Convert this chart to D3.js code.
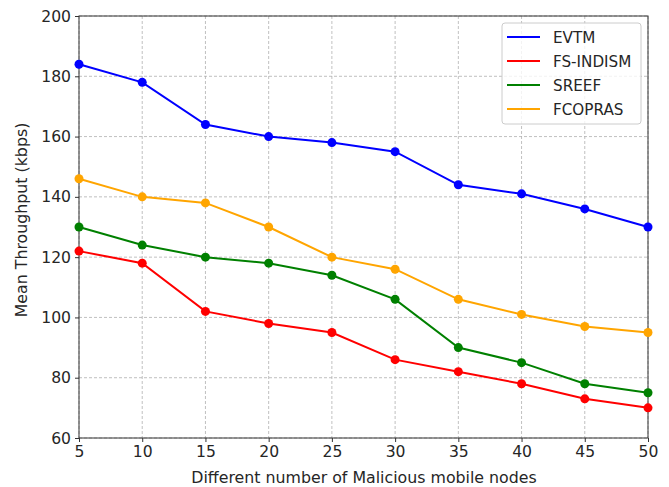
<!DOCTYPE html>
<html>
<head>
  <meta charset="utf-8">
  <title>Mean Throughput</title>
  <style>
    body { margin: 0; background: #fff; }
    text { font-family: "DejaVu Sans", sans-serif; fill: #262626; }
  </style>
</head>
<body>
  <div id="chart"></div>
  <script src="https://cdn.jsdelivr.net/npm/d3@7"></script>
  <script type="text/javascript">
    var nodes = [5, 10, 15, 20, 25, 30, 35, 40, 45, 50];
    var evtm = [184, 178, 164, 160, 158, 155, 144, 141, 136, 130];
    var fsIndism = [122, 118, 102, 98, 95, 86, 82, 78, 73, 70];
    var sreef = [130, 124, 120, 118, 114, 106, 90, 85, 78, 75];
    var fcopras = [146, 140, 138, 130, 120, 116, 106, 101, 97, 95];
    var seriesNames = ["EVTM", "FS-INDISM", "SREEF", "FCOPRAS"];
    var seriesColors = ["#0000ff", "#ff0000", "#008000", "#ffa500"];
    var yTicks = [60, 80, 100, 120, 140, 160, 180, 200];

    var series = [evtm, fsIndism, sreef, fcopras].map(function(vals, i) {
      return { name: seriesNames[i], color: seriesColors[i], values: vals };
    });

    var w = 669;
    var h = 487;
    // plot box (window.top is reserved, so use own names)
    var pLeft = 79, pRight = 648, pTop = 16, pBottom = 438;

    var svg = d3.select("#chart")
      .append("svg")
      .attr("width", w)
      .attr("height", h);

    var x = d3.scaleLinear().domain([5, 50]).range([pLeft, pRight]);
    var y = d3.scaleLinear().domain([60, 200]).range([pBottom, pTop]);

    // grid
    svg.append("g").selectAll("line")
      .data(nodes)
      .enter().append("line")
      .attr("x1", function(d) { return x(d); })
      .attr("x2", function(d) { return x(d); })
      .attr("y1", pTop).attr("y2", pBottom)
      .attr("stroke", "#b0b0b0").attr("stroke-width", 0.8)
      .attr("stroke-dasharray", "3,2");
    svg.append("g").selectAll("line")
      .data(yTicks)
      .enter().append("line")
      .attr("y1", function(d) { return y(d); })
      .attr("y2", function(d) { return y(d); })
      .attr("x1", pLeft).attr("x2", pRight)
      .attr("stroke", "#b0b0b0").attr("stroke-width", 0.8)
      .attr("stroke-dasharray", "3,2");

    // axes
    var xAxis = svg.append("g")
      .attr("transform", "translate(0," + pBottom + ")")
      .call(d3.axisBottom(x).tickValues(nodes).tickSize(4).tickPadding(4));
    var yAxis = svg.append("g")
      .attr("transform", "translate(" + pLeft + ",0)")
      .call(d3.axisLeft(y).tickValues(yTicks).tickSize(4).tickPadding(4));
    [xAxis, yAxis].forEach(function(a) {
      a.select(".domain").remove();
      a.selectAll("text").style("font-size", "15.6px").attr("fill", "#262626")
        .style("font-family", "DejaVu Sans, sans-serif");
      a.selectAll("line").attr("stroke", "#333");
    });

    svg.append("rect")
      .attr("x", pLeft).attr("y", pTop)
      .attr("width", pRight - pLeft).attr("height", pBottom - pTop)
      .attr("fill", "none").attr("stroke", "#333").attr("stroke-width", 1);

    // lines + markers
    var line = d3.line()
      .x(function(d, i) { return x(nodes[i]); })
      .y(function(d) { return y(d); });

    series.forEach(function(s) {
      svg.append("path")
        .datum(s.values)
        .attr("d", line)
        .attr("fill", "none")
        .attr("stroke", s.color)
        .attr("stroke-width", 2);
      svg.append("g").selectAll("circle")
        .data(s.values)
        .enter().append("circle")
        .attr("cx", function(d, i) { return x(nodes[i]); })
        .attr("cy", function(d) { return y(d); })
        .attr("r", 4.5)
        .attr("fill", s.color);
    });

    // labels
    svg.append("text")
      .attr("x", 364)
      .attr("y", 483)
      .attr("text-anchor", "middle")
      .style("font-size", "15.8px")
      .text("Different number of Malicious mobile nodes");
    svg.append("text")
      .attr("transform", "translate(27,220) rotate(-90)")
      .attr("text-anchor", "middle")
      .style("font-size", "15.8px")
      .text("Mean Throughput (kbps)");

    // legend
    var lg = svg.append("g");
    lg.append("rect")
      .attr("x", 502).attr("y", 23)
      .attr("width", 139).attr("height", 101)
      .attr("rx", 3)
      .attr("fill", "#fff").attr("fill-opacity", 0.8)
      .attr("stroke", "#ccc");
    series.forEach(function(s, i) {
      var ly = 37 + i * 24;
      lg.append("line")
        .attr("x1", 507).attr("x2", 540)
        .attr("y1", ly).attr("y2", ly)
        .attr("stroke", s.color).attr("stroke-width", 2);
      lg.append("text")
        .attr("x", 553).attr("y", ly + 5.5)
        .style("font-size", "15.2px")
        .text(s.name);
    });
  </script>
</body>
</html>
